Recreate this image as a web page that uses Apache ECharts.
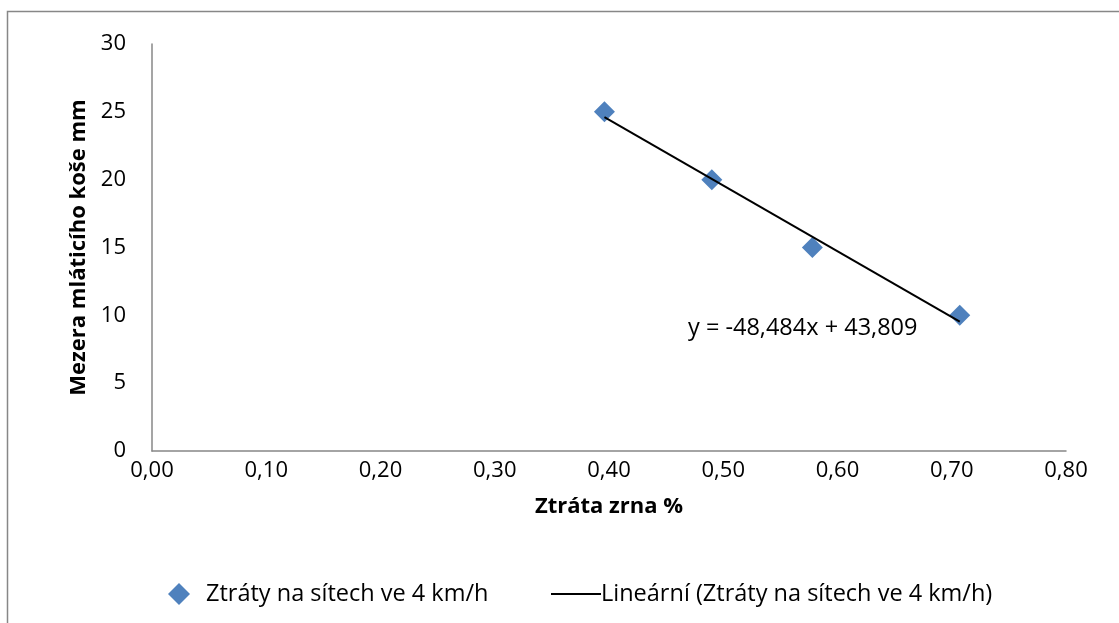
<!DOCTYPE html>
<html>
<head>
<meta charset="utf-8">
<script src="https://cdn.jsdelivr.net/npm/echarts@6/dist/echarts.min.js"></script>
<style>
html, body { margin: 0; padding: 0; background: #fff; }
#chart { width: 1119px; height: 623px; }
</style>
</head>
<body>
<div id="chart"></div>
<script>
// ztráta zrna (%) vs. mezera mláticího koše (mm)
const lossPct = [0.396, 0.49, 0.578, 0.707]
const gapMm = [25, 20, 15, 10]
const slope = -48.484
const intercept = 43.809
const xTicks = [0, 0.1, 0.2, 0.3, 0.4, 0.5, 0.6, 0.7, 0.8]
const yTicks = [0, 5, 10, 15, 20, 25, 30]

const seriesName = "Ztráty na sítech ve 4 km/h"
const trendName = "Lineární (Ztráty na sítech ve 4 km/h)"

const font = "'Open Sans', 'Liberation Sans', sans-serif"
const fmt = v => v.toFixed(3).replace(".", ",")

const chart = echarts.init(document.getElementById("chart"))

const points = lossPct.map((x, i) => [x, gapMm[i]])
const xMin = Math.min(...lossPct)
const xMax = Math.max(...lossPct)
const trend = [[xMin, slope * xMin + intercept], [xMax, slope * xMax + intercept]]

chart.setOption({
	backgroundColor: "#fff",
	animation: false,
	textStyle: { fontFamily: font },
	grid: { left: 152, right: 53, top: 44, bottom: 172 },
	xAxis: {
		type: "value",
		min: xTicks[0],
		max: xTicks[xTicks.length - 1],
		interval: 0.1,
		name: "Ztráta zrna %",
		nameLocation: "middle",
		nameGap: 45,
		nameTextStyle: { color: "#000", fontSize: 22, fontWeight: "bold", fontFamily: font },
		axisLine: { lineStyle: { color: "#878787", width: 1.5 } },
		axisTick: { show: false },
		splitLine: { show: false },
		axisLabel: {
			color: "#000",
			fontSize: 22,
			margin: 9,
			formatter: v => v.toFixed(2).replace(".", ",")
		}
	},
	yAxis: {
		type: "value",
		min: yTicks[0],
		max: yTicks[yTicks.length - 1],
		interval: 5,
		name: "Mezera mláticího koše mm",
		nameLocation: "middle",
		nameGap: 60,
		nameTextStyle: { color: "#000", fontSize: 22, fontWeight: "bold", fontFamily: font },
		axisLine: { show: true, lineStyle: { color: "#878787", width: 1.5 } },
		axisTick: { show: false },
		splitLine: { show: false },
		axisLabel: { color: "#000", fontSize: 22, margin: 26 }
	},
	legend: [
		{
			left: 163,
			top: 577,
			itemWidth: 22,
			itemHeight: 22,
			textStyle: { color: "#000", fontSize: 23.5, fontFamily: font, padding: [0, 0, 0, 11] },
			data: [{ name: seriesName, icon: "diamond", itemStyle: { color: "#4F81BD", opacity: 1 } }]
		},
		{
			left: 546,
			top: 577,
			itemWidth: 50,
			itemHeight: 2,
			textStyle: { color: "#000", fontSize: 23.5, fontFamily: font, padding: [0, 0, 0, -5] },
			data: [{ name: trendName, icon: "rect", itemStyle: { color: "#000" } }]
		}
	],
	graphic: [
		{
			type: "rect",
			shape: { x: 7.5, y: 11.5, width: 1200, height: 700 },
			style: { fill: "none", stroke: "#878787", lineWidth: 1.5 },
			silent: true
		},
		{
			type: "text",
			left: 688,
			top: 316,
			style: {
				text: "y = " + fmt(slope) + "x + " + fmt(intercept),
				fill: "#000",
				fontSize: 23.5,
				fontFamily: font
			}
		}
	],
	series: [
		{
			name: seriesName,
			type: "scatter",
			symbol: "diamond",
			symbolSize: 21,
			itemStyle: { color: "#4F81BD", opacity: 1 },
			data: points,
			z: 2
		},
		{
			name: trendName,
			type: "line",
			symbol: "none",
			lineStyle: { color: "#000", width: 2 },
			itemStyle: { color: "#000" },
			data: trend,
			z: 3
		}
	]
})
</script>
</body>
</html>
